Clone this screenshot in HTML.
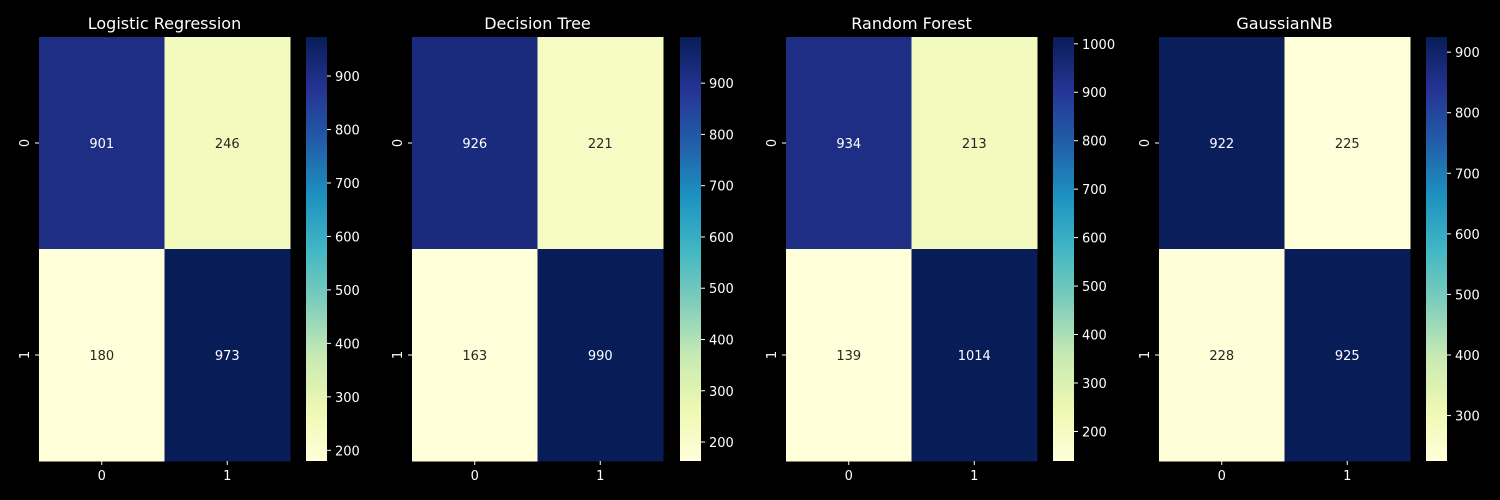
<!DOCTYPE html>
<html><head><meta charset="utf-8"><style>
body{margin:0;background:#000;}
svg{display:block;font-family:"DejaVu Sans","Liberation Sans",sans-serif;}
</style></head><body>
<svg id="fig" width="1500" height="500"></svg>
<script>
const titles=["Logistic Regression","Decision Tree","Random Forest","GaussianNB"];
const matLR=[[901,246],[180,973]];
const matDT=[[926,221],[163,990]];
const matRF=[[934,213],[139,1014]];
const matNB=[[922,225],[228,925]];
const mats=[matLR,matDT,matRF,matNB];
const classLabels=["0","1"];
const ticksLR=[200,300,400,500,600,700,800,900];
const ticksDT=[200,300,400,500,600,700,800,900];
const ticksRF=[200,300,400,500,600,700,800,900,1000];
const ticksNB=[300,400,500,600,700,800,900];
const cbTicks=[ticksLR,ticksDT,ticksRF,ticksNB];
const panelX=[39,412,786,1159];
const cmap=["#ffffd9","#edf8b1","#c7e9b4","#7fcdbb","#41b6c4","#1d91c0","#225ea8","#253494","#081d58"];
function hex(c){return [1,3,5].map(i=>parseInt(c.substr(i,2),16));}
function color(t){t=Math.max(0,Math.min(1,t));const p=t*8,i=Math.min(7,Math.floor(p)),f=p-i;const a=hex(cmap[i]),b=hex(cmap[i+1]);return "rgb("+a.map((v,k)=>Math.round(v+(b[k]-v)*f)).join(",")+")";}
const NS="http://www.w3.org/2000/svg";
const svg=document.getElementById("fig");
function el(tag,attrs,parent){const e=document.createElementNS(NS,tag);for(const k in attrs)e.setAttribute(k,attrs[k]);(parent||svg).appendChild(e);return e;}
const topY=37,H=424,W=251,cbW=21;
const defs=el("defs",{});
const g=el("linearGradient",{id:"cbgrad",x1:"0",y1:"1",x2:"0",y2:"0"},defs);
cmap.forEach((c,i)=>el("stop",{offset:(i/8),"stop-color":c},g));
mats.forEach((m,p)=>{
  const x0=panelX[p];
  const flat=m.flat();const vmin=Math.min(...flat),vmax=Math.max(...flat);
  const grp=el("g",{});
  
  
  const t=el("text",{x:x0+W/2,y:29,fill:"#fff","font-size":16,"text-anchor":"middle"},grp);
  t.textContent=titles[p];
  
  
  const cw=W/2,ch=H/2;
  for(let r=0;r<2;r++)for(let c=0;c<2;c++){
    const v=m[r][c],tv=(v-vmin)/(vmax-vmin);
    const rect=el("rect",{x:x0+c*cw,y:topY+r*ch,width:cw+0.5,height:ch+0.5,fill:color(tv)},grp);
    
    
    const tx=el("text",{x:x0+c*cw+cw/2,y:topY+r*ch+ch/2+5,fill:tv>0.5?"#fff":"#262626","font-size":13,"text-anchor":"middle"},grp);
    tx.textContent=v;
    
    
  }
  classLabels.forEach((l,i)=>{
    const xc=x0+i*cw+cw/2;
    el("line",{x1:xc,x2:xc,y1:topY+H,y2:topY+H+4,stroke:"#fff"},grp);
    const xt=el("text",{x:xc,y:topY+H+19,fill:"#fff","font-size":13,"text-anchor":"middle"},grp);
    xt.textContent=l;
    
    
    const yc=topY+i*ch+ch/2;
    el("line",{x1:x0-4,x2:x0,y1:yc,y2:yc,stroke:"#fff"},grp);
    const yt=el("text",{x:0,y:0,fill:"#fff","font-size":13,"text-anchor":"middle",transform:`translate(${x0-10},${yc}) rotate(-90)`},grp);
    yt.textContent=l;
    
    
  });
  const cbx=x0+W+16+(p==1?1:0);
  const cb=el("rect",{x:cbx,y:topY,width:cbW,height:H,fill:"url(#cbgrad)"},grp);
  
  
  cbTicks[p].forEach(tk=>{
    const y=topY+H-(tk-vmin)/(vmax-vmin)*H;
    el("line",{x1:cbx+cbW,x2:cbx+cbW+4,y1:y,y2:y,stroke:"#fff"},grp);
    const ct=el("text",{x:cbx+cbW+8,y:y+5,fill:"#fff","font-size":13},grp);
    ct.textContent=tk;
    
    
  });
});
</script>
</body></html>
